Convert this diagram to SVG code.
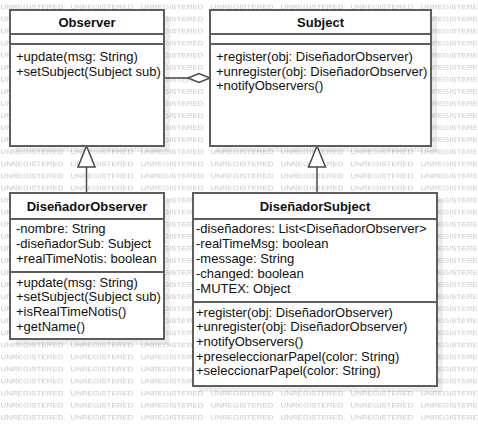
<svg xmlns="http://www.w3.org/2000/svg" width="478" height="425" viewBox="0 0 478 425">
  <style>
    .wm { font-family: "Liberation Sans", Arial, sans-serif; font-size: 7.5px; fill: #c8c8c8; }
    .box { fill: #ffffff; stroke: #5e5e5e; stroke-width: 2; }
    .shadow { fill: #000000; fill-opacity: 0.07; }
    .sep { stroke: #5e5e5e; stroke-width: 2; }
    .title { font-family: "Liberation Sans", Arial, sans-serif; font-size: 13px; font-weight: bold; fill: #111; text-anchor: middle; }
    .member { font-family: "Liberation Sans", Arial, sans-serif; font-size: 13px; fill: #111; }
    .line { stroke: #4a4a4a; stroke-width: 1.5; fill: none; }
    .head { stroke: #4a4a4a; stroke-width: 1.5; fill: #ffffff; }
  </style>
  <defs>
    <pattern id="wmTile" patternUnits="userSpaceOnUse" x="0" y="0" width="70" height="12.07">
      <text class="wm" x="0.5" y="9" textLength="63" lengthAdjust="spacingAndGlyphs">UNREGISTERED</text>
    </pattern>
  </defs>

  <!-- background with repeating watermark -->
  <rect x="0" y="0" width="478" height="425" fill="#ffffff"/>
  <rect x="0" y="0" width="478" height="425" fill="url(#wmTile)"/>

  <!-- drop shadows -->
  <rect class="shadow" x="16" y="16" width="154" height="136"/>
  <rect class="shadow" x="216" y="16" width="221" height="136"/>
  <rect class="shadow" x="16" y="199" width="154" height="146"/>
  <rect class="shadow" x="199" y="199" width="244" height="193"/>

  <g id="connectors">
    <!-- aggregation: Observer -> Subject -->
    <line class="line" x1="164" y1="78" x2="188" y2="78"/>
    <polygon class="head" points="188,78 199,73.5 210,78 199,82.5"/>
    <!-- generalization: DiseñadorObserver -> Observer -->
    <line class="line" x1="86.5" y1="167" x2="86.5" y2="193"/>
    <polygon class="head" points="86.5,146 95,167 78,167"/>
    <!-- generalization: DiseñadorSubject -> Subject -->
    <line class="line" x1="317" y1="167" x2="317" y2="193"/>
    <polygon class="head" points="317,146 325.5,167 308.5,167"/>
  </g>

  <g id="observer">
    <rect class="box" x="10" y="10" width="154" height="136"/>
    <line class="sep" x1="10" y1="34" x2="164" y2="34"/>
    <line class="sep" x1="10" y1="44" x2="164" y2="44"/>
    <text class="title" x="87" y="27">Observer</text>
    <text class="member" x="16" y="61">+update(msg: String)</text>
    <text class="member" x="16" y="75.5">+setSubject(Subject sub)</text>
  </g>

  <g id="subject">
    <rect class="box" x="210" y="10" width="221" height="136"/>
    <line class="sep" x1="210" y1="34" x2="431" y2="34"/>
    <line class="sep" x1="210" y1="44" x2="431" y2="44"/>
    <text class="title" x="320.5" y="27">Subject</text>
    <text class="member" x="216" y="61">+register(obj: DiseñadorObserver)</text>
    <text class="member" x="216" y="75.5">+unregister(obj: DiseñadorObserver)</text>
    <text class="member" x="216" y="90">+notifyObservers()</text>
  </g>

  <g id="disenador-observer">
    <rect class="box" x="10" y="193" width="154" height="146"/>
    <line class="sep" x1="10" y1="219" x2="164" y2="219"/>
    <line class="sep" x1="10" y1="272" x2="164" y2="272"/>
    <text class="title" x="87" y="211">DiseñadorObserver</text>
    <text class="member" x="16" y="233">-nombre: String</text>
    <text class="member" x="16" y="248">-diseñadorSub: Subject</text>
    <text class="member" x="16" y="263">+realTimeNotis: boolean</text>
    <text class="member" x="16" y="286.5">+update(msg: String)</text>
    <text class="member" x="16" y="301">+setSubject(Subject sub)</text>
    <text class="member" x="16" y="316">+isRealTimeNotis()</text>
    <text class="member" x="16" y="330.5">+getName()</text>
  </g>

  <g id="disenador-subject">
    <rect class="box" x="193" y="193" width="244" height="193"/>
    <line class="sep" x1="193" y1="219" x2="437" y2="219"/>
    <line class="sep" x1="193" y1="302" x2="437" y2="302"/>
    <text class="title" x="315" y="211">DiseñadorSubject</text>
    <text class="member" x="196" y="233">-diseñadores: List&lt;DiseñadorObserver&gt;</text>
    <text class="member" x="196" y="248">-realTimeMsg: boolean</text>
    <text class="member" x="196" y="263">-message: String</text>
    <text class="member" x="196" y="278">-changed: boolean</text>
    <text class="member" x="196" y="293">-MUTEX: Object</text>
    <text class="member" x="196" y="316.5">+register(obj: DiseñadorObserver)</text>
    <text class="member" x="196" y="331">+unregister(obj: DiseñadorObserver)</text>
    <text class="member" x="196" y="346">+notifyObservers()</text>
    <text class="member" x="196" y="360.5">+preseleccionarPapel(color: String)</text>
    <text class="member" x="196" y="375">+seleccionarPapel(color: String)</text>
  </g>
</svg>
